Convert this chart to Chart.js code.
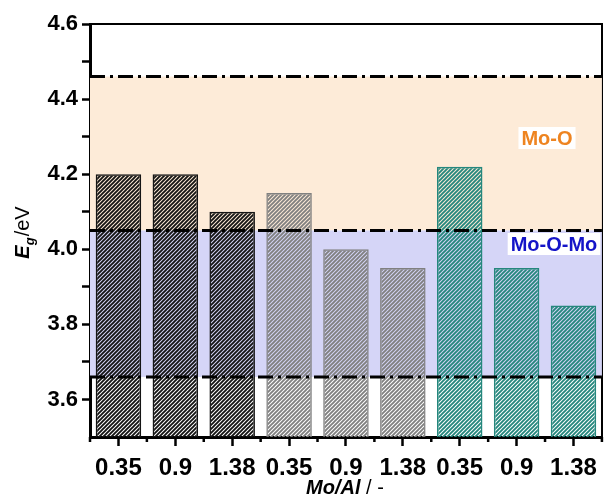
<!DOCTYPE html>
<html>
<head>
<meta charset="utf-8">
<script src="https://cdn.jsdelivr.net/npm/chart.js@4"></script>
<style>
  html, body { margin: 0; padding: 0; background: #fff; }
  #wrap { width: 605px; height: 497px; }
</style>
</head>
<body>
<div id="wrap"><canvas id="egChart" width="605" height="497"></canvas></div>
<script>
// Mo/Al ratios, three sample groups
const categories = ['0.35', '0.9', '1.38', '0.35', '0.9', '1.38', '0.35', '0.9', '1.38'];
const bandGap = [4.20, 4.20, 4.10, 4.15, 4.00, 3.95, 4.22, 3.95, 3.85];
const groupOf = [0, 0, 0, 1, 1, 1, 2, 2, 2];
const yTicks = [3.6, 3.7, 3.8, 3.9, 4.0, 4.1, 4.2, 4.3, 4.4, 4.5, 4.6];
// reference levels (dash-dot lines)
const levels = [4.46, 4.05, 3.66];

const lineColors = ['#141414', '#808080', '#25877d'];
const FONT = '"Liberation Sans", Arial, sans-serif';

function makeHatch(color) {
  const s = 4;
  const c = document.createElement('canvas');
  c.width = s; c.height = s;
  const g = c.getContext('2d');
  g.strokeStyle = color;
  g.lineWidth = 1.9;
  g.beginPath();
  g.moveTo(0, s); g.lineTo(s, 0);
  g.moveTo(-1, 1); g.lineTo(1, -1);
  g.moveTo(s - 1, s + 1); g.lineTo(s + 1, s - 1);
  g.stroke();
  return g.createPattern(c, 'repeat');
}
const hatches = lineColors.map(makeHatch);

const decor = {
  id: 'decor',
  beforeDatasetsDraw(chart) {
    const { ctx, chartArea: a, scales: { x, y } } = chart;
    ctx.save();
    ctx.fillStyle = '#fdebd8';
    ctx.fillRect(a.left, y.getPixelForValue(levels[0]), a.right - a.left,
      y.getPixelForValue(levels[1]) - y.getPixelForValue(levels[0]));
    ctx.fillStyle = '#d5d5f7';
    ctx.fillRect(a.left, y.getPixelForValue(levels[1]), a.right - a.left,
      y.getPixelForValue(levels[2]) - y.getPixelForValue(levels[1]));
    // short ticks between categories
    ctx.fillStyle = '#000';
    for (let i = 0; i <= categories.length; i++) {
      const px = x.getPixelForValue(i - 0.5);
      ctx.fillRect(px - 1.25, a.bottom, 2.5, 5);
    }
    ctx.restore();
  },
  afterDraw(chart) {
    const { ctx, chartArea: a, scales: { y } } = chart;
    ctx.save();
    // dash-dot levels
    ctx.strokeStyle = '#000';
    ctx.lineWidth = 3;
    ctx.setLineDash([15, 5, 3, 5]);
    levels.forEach(v => {
      const py = y.getPixelForValue(v);
      ctx.beginPath();
      ctx.moveTo(a.left, py);
      ctx.lineTo(a.right, py);
      ctx.stroke();
    });
    ctx.setLineDash([]);

    // region labels
    function tag(text, color, cx, cy) {
      ctx.font = 'bold 20px ' + FONT;
      const w = ctx.measureText(text).width;
      ctx.fillStyle = '#fff';
      ctx.fillRect(cx - w / 2 - 3, cy - 11, w + 6, 22);
      ctx.fillStyle = color;
      ctx.textAlign = 'center';
      ctx.textBaseline = 'middle';
      ctx.fillText(text, cx, cy + 1);
    }
    tag('Mo-O', '#ee8420', 547, 138);
    tag('Mo-O-Mo', '#1414c8', 554, 244);

    // axis titles
    ctx.fillStyle = '#000';
    ctx.textBaseline = 'alphabetic';
    ctx.textAlign = 'left';
    const xt1 = 'Mo/Al', xt2 = ' / -';
    ctx.font = 'italic bold 20px ' + FONT;
    const w1 = ctx.measureText(xt1).width;
    ctx.font = '20px ' + FONT;
    const w2 = ctx.measureText(xt2).width;
    const sx = 345 - (w1 + w2) / 2;
    ctx.font = 'italic bold 20px ' + FONT;
    ctx.fillText(xt1, sx, 494);
    ctx.font = '20px ' + FONT;
    ctx.fillText(xt2, sx + w1, 494);

    ctx.translate(29, 233);
    ctx.rotate(-Math.PI / 2);
    ctx.font = 'italic bold 20px ' + FONT;
    const e = ctx.measureText('E').width;
    ctx.font = 'italic bold 13px ' + FONT;
    const g = ctx.measureText('g').width;
    ctx.font = '20px ' + FONT;
    const ev = ctx.measureText('/eV').width;
    const tx = -(e + g + ev) / 2;
    ctx.font = 'italic bold 20px ' + FONT;
    ctx.fillText('E', tx, 0);
    ctx.font = 'italic bold 13px ' + FONT;
    ctx.fillText('g', tx + e, 5);
    ctx.font = '20px ' + FONT;
    ctx.fillText('/eV', tx + e + g + 1, 0);
    ctx.restore();
  }
};

new Chart(document.getElementById('egChart').getContext('2d'), {
  type: 'bar',
  data: {
    labels: categories,
    datasets: [{
      data: bandGap,
      backgroundColor: groupOf.map(k => hatches[k]),
      borderColor: groupOf.map(k => lineColors[k]),
      borderWidth: 1.5,
      barPercentage: 0.8,
      categoryPercentage: 1.0
    }]
  },
  options: {
    responsive: false,
    animation: false,
    events: [],
    layout: { padding: { top: 24, right: 2, left: 0, bottom: 0 } },
    plugins: { legend: { display: false }, tooltip: { enabled: false } },
    scales: {
      x: {
        offset: true,
        grid: {
          display: true, offset: false, drawOnChartArea: false,
          drawTicks: true, tickLength: 9, tickWidth: 2.5, tickColor: '#000'
        },
        border: { color: '#000', width: 3 },
        ticks: {
          color: '#000',
          padding: 8,
          maxRotation: 0,
          font: { family: FONT, size: 24, weight: 'bold' }
        },
        afterFit(s) { s.height = 60; }
      },
      xTop: {
        type: 'category',
        labels: categories,
        position: 'top',
        offset: true,
        grid: { display: false },
        border: { color: '#000', width: 2 },
        ticks: { display: false },
        afterFit(s) { s.height = 0; }
      },
      y: {
        min: 3.5,
        max: 4.6,
        grid: {
          display: true, drawOnChartArea: false,
          drawTicks: true, tickLength: 8, tickWidth: 2.5, tickColor: '#000'
        },
        border: { color: '#000', width: 3 },
        afterBuildTicks(s) { s.ticks = yTicks.map(v => ({ value: v })); },
        ticks: {
          color: '#000',
          padding: 4,
          autoSkip: false,
          callback: (v, i) => (Math.round(v * 10) % 2 === 0 ? v.toFixed(1) : ''),
          font: { family: FONT, size: 22, weight: 'bold' }
        },
        afterFit(s) { s.width = 90; }
      },
      yRight: {
        position: 'right',
        min: 3.5,
        max: 4.6,
        grid: { display: false },
        border: { color: '#000', width: 2 },
        ticks: { display: false },
        afterFit(s) { s.width = 0; }
      }
    }
  },
  plugins: [decor]
});
</script>
</body>
</html>
